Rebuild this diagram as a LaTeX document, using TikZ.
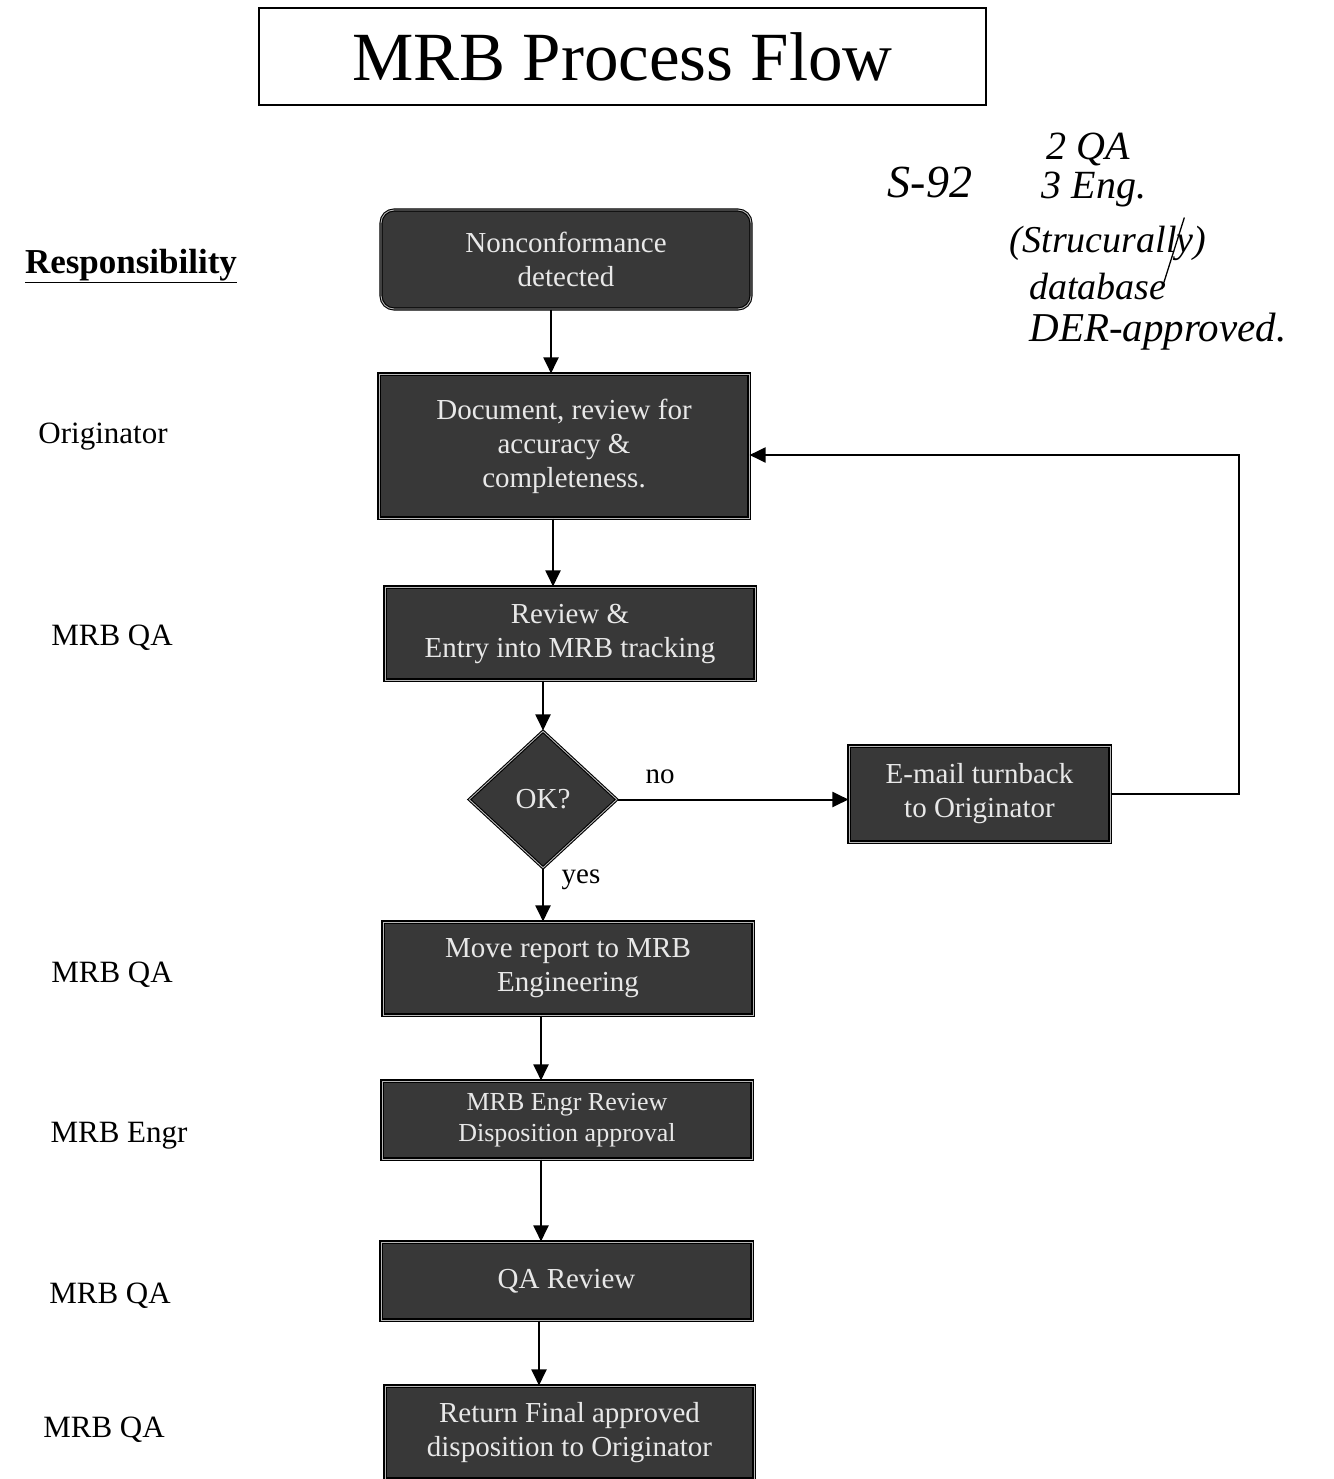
\documentclass[tikz,border=0pt]{standalone}
\usepackage{fontspec}
\setmainfont{Liberation Serif}
\usetikzlibrary{shapes.geometric,arrows.meta}
\definecolor{boxfill}{HTML}{383838}
\definecolor{boxtext}{HTML}{E8E8E8}
\begin{document}
\begin{tikzpicture}[x=1pt,y=-1pt,
  box/.style={draw=black, line width=1.1pt, double=gray!55, double distance=0.9pt, fill=boxfill, text=boxtext, align=center, inner sep=0pt, font=\fontsize{29}{34}\selectfont},
  arr/.style={line width=2pt, -{Triangle[length=16pt,width=15pt]}},
  resp/.style={font=\fontsize{31}{36}\selectfont, inner sep=0pt},
  lbl/.style={font=\fontsize{29}{34}\selectfont, inner sep=0pt},
  hand/.style={font=\fontsize{38}{40}\selectfont\itshape, inner sep=0pt}
]
\useasboundingbox (0,0) rectangle (1333,1479);
\fill[white] (0,0) rectangle (1333,1479);

% title
\node[draw=black, line width=1.3pt, minimum width=727pt, minimum height=97pt, inner sep=0pt,
      font=\fontsize{69}{70}\selectfont] (title) at (622.5,56.5) {MRB Process Flow};

% responsibility column
\node[font=\fontsize{35}{40}\selectfont\bfseries, inner sep=0pt] (resph) at (131,266) {\underline{Responsibility}};
\node[resp] (r1) at (103,437) {Originator};
\node[resp] (r2) at (112,638) {MRB QA};
\node[resp] (r3) at (112,975) {MRB QA};
\node[resp] (r4) at (119,1136) {MRB Engr};
\node[resp] (r5) at (110,1296) {MRB QA};
\node[resp] (r6) at (104,1430) {MRB QA};

% process boxes
\node[box, rounded corners=13pt, minimum width=370pt, minimum height=99pt] (b1) at (566,259.5) {Nonconformance\\detected};
\node[box, minimum width=370pt, minimum height=144pt] (b2) at (564,446) {Document, review for\\accuracy \&\\completeness.};
\node[box, minimum width=370pt, minimum height=93pt] (b3) at (570,633.5) {Review \&\\Entry into MRB tracking};
\node[box, shape=diamond, aspect=1.08, minimum width=148pt, minimum height=137pt] (d) at (543,799.5) {OK?};
\node[box, minimum width=261pt, minimum height=96pt] (e) at (979.5,794) {E-mail turnback\\to Originator};
\node[box, minimum width=370pt, minimum height=93pt] (mv) at (568,968.5) {Move report to MRB\\Engineering};
\node[box, minimum width=370pt, minimum height=78pt, font=\fontsize{26}{31}\selectfont] (en) at (567,1120) {MRB Engr Review\\Disposition approval};
\node[box, minimum width=371pt, minimum height=78pt] (qa) at (566.5,1281) {QA Review};
\node[box, minimum width=369pt, minimum height=93pt] (rt) at (569.5,1432.5) {Return Final approved\\disposition to Originator};

% connectors
\draw[arr] ([xshift=-15pt]b1.south) -- ([xshift=-15pt]b1.south |- b2.north);
\draw[arr] ([xshift=-11pt]b2.south) -- ([xshift=-11pt]b2.south |- b3.north);
\draw[arr] (d.north |- b3.south) -- (d.north);
\draw[arr] (d.east) -- (d.east -| e.west);
\node[lbl] (no) at (660,777) {no};
\draw[arr] (d.south) -- (d.south |- mv.north);
\node[lbl] (yes) at (581,880) {yes};
\coordinate (fb) at (1239,795);
\coordinate (b2r) at ([yshift=-9pt]b2.east);
\draw[arr] (e.east) -- (e.east -| fb) -- (fb |- b2r) -- (b2r);
\draw[arr] ([xshift=-27pt]mv.south) -- ([xshift=-27pt]mv.south |- en.north);
\draw[arr] ([xshift=-26pt]en.south) -- ([xshift=-26pt]en.south |- qa.north);
\draw[arr] ([xshift=-27.5pt]qa.south) -- ([xshift=-27.5pt]qa.south |- rt.north);

% handwritten note
\node[hand, font=\fontsize{46}{48}\selectfont\itshape] (h0) at (930,182) {S-92};
\node[hand, font=\fontsize{40}{42}\selectfont\itshape] (h1) at (1088,150) {2 QA};
\node[hand, font=\fontsize{40}{42}\selectfont\itshape] (h2) at (1094,190) {3 Eng.};
\node[hand] (h3) at (1108,243) {(Strucurally)};
\node[hand] (h4) at (1098,287) {database};
\node[hand, font=\fontsize{41}{43}\selectfont\itshape] (h5) at (1158,332) {DER-approved.};
\draw[line width=1.3pt] (h3.north east) ++(-22pt,8pt) coordinate (s1) -- ([xshift=-5pt,yshift=-2pt]h4.east);
\end{tikzpicture}
\end{document}
